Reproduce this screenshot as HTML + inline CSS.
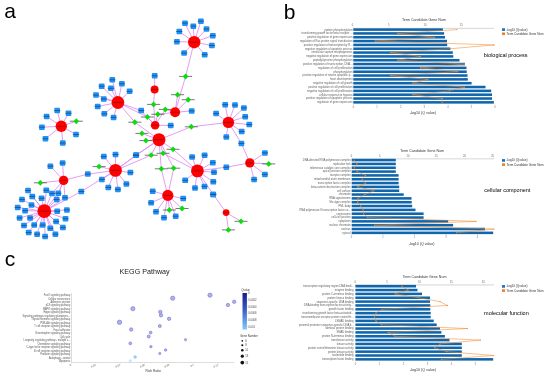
<!DOCTYPE html>
<html><head><meta charset="utf-8"><style>
html,body{margin:0;padding:0;background:#fff;}
body{width:550px;height:376px;overflow:hidden;}
svg{display:block;font-family:"Liberation Sans", sans-serif;filter:blur(0.3px);}
</style></head><body>
<svg width="550" height="376" viewBox="0 0 550 376">
<rect width="550" height="376" fill="#fff"/>
<g stroke="#dc84f2" stroke-width="0.8" fill="none">
<line x1="194.2" y1="42.2" x2="185" y2="23.1"/>
<line x1="194.2" y1="42.2" x2="193.3" y2="26.1"/>
<line x1="194.2" y1="42.2" x2="200.9" y2="21.2"/>
<line x1="194.2" y1="42.2" x2="206.5" y2="29"/>
<line x1="194.2" y1="42.2" x2="212.8" y2="35.6"/>
<line x1="194.2" y1="42.2" x2="211.9" y2="45.5"/>
<line x1="194.2" y1="42.2" x2="204.7" y2="54.7"/>
<line x1="194.2" y1="42.2" x2="184.1" y2="53"/>
<line x1="194.2" y1="42.2" x2="176.9" y2="41.6"/>
<line x1="194.2" y1="42.2" x2="179.3" y2="31.5"/>
<line x1="117.9" y1="102.5" x2="112.3" y2="79.8"/>
<line x1="117.9" y1="102.5" x2="121.9" y2="83.8"/>
<line x1="117.9" y1="102.5" x2="101.7" y2="86.2"/>
<line x1="117.9" y1="102.5" x2="110.9" y2="88.3"/>
<line x1="117.9" y1="102.5" x2="129.6" y2="91.3"/>
<line x1="117.9" y1="102.5" x2="96" y2="95.1"/>
<line x1="117.9" y1="102.5" x2="103.8" y2="98.9"/>
<line x1="117.9" y1="102.5" x2="97.7" y2="106.4"/>
<line x1="117.9" y1="102.5" x2="104.3" y2="113.8"/>
<line x1="117.9" y1="102.5" x2="113.6" y2="117.4"/>
<line x1="117.9" y1="102.5" x2="141.2" y2="110.6"/>
<line x1="155.1" y1="125.2" x2="141.2" y2="110.6"/>
<line x1="154.6" y1="89.4" x2="154.7" y2="75.8"/>
<line x1="175.1" y1="112.3" x2="191.7" y2="110.9"/>
<line x1="155.1" y1="125.2" x2="170.7" y2="125.5"/>
<line x1="159.0" y1="139.7" x2="136.2" y2="155.1"/>
<line x1="115.5" y1="170.4" x2="136.2" y2="155.1"/>
<line x1="61.3" y1="126.3" x2="57.2" y2="110.6"/>
<line x1="61.3" y1="126.3" x2="68.5" y2="113.2"/>
<line x1="61.3" y1="126.3" x2="46.6" y2="116.4"/>
<line x1="61.3" y1="126.3" x2="41.9" y2="127.2"/>
<line x1="61.3" y1="126.3" x2="45.5" y2="138.7"/>
<line x1="61.3" y1="126.3" x2="62.8" y2="143"/>
<line x1="61.3" y1="126.3" x2="76" y2="134.5"/>
<line x1="63.6" y1="180.4" x2="50.4" y2="166.2"/>
<line x1="63.6" y1="180.4" x2="62.6" y2="163"/>
<line x1="63.6" y1="180.4" x2="87.8" y2="174.1"/>
<line x1="115.5" y1="170.4" x2="87.8" y2="174.1"/>
<line x1="44.3" y1="211.2" x2="28" y2="190.5"/>
<line x1="44.3" y1="211.2" x2="46.3" y2="190.3"/>
<line x1="44.3" y1="211.2" x2="52" y2="193.4"/>
<line x1="63.6" y1="180.4" x2="52" y2="193.4"/>
<line x1="44.3" y1="211.2" x2="58.3" y2="193.2"/>
<line x1="63.6" y1="180.4" x2="58.3" y2="193.2"/>
<line x1="44.3" y1="211.2" x2="32.3" y2="196.4"/>
<line x1="44.3" y1="211.2" x2="41.6" y2="198.3"/>
<line x1="44.3" y1="211.2" x2="22" y2="199.6"/>
<line x1="44.3" y1="211.2" x2="56.7" y2="199.6"/>
<line x1="63.6" y1="180.4" x2="56.7" y2="199.6"/>
<line x1="44.3" y1="211.2" x2="65" y2="197.7"/>
<line x1="63.6" y1="180.4" x2="65" y2="197.7"/>
<line x1="44.3" y1="211.2" x2="31.5" y2="205.1"/>
<line x1="44.3" y1="211.2" x2="17.7" y2="207.5"/>
<line x1="44.3" y1="211.2" x2="25.1" y2="210.7"/>
<line x1="44.3" y1="211.2" x2="57.2" y2="211.2"/>
<line x1="44.3" y1="211.2" x2="66.9" y2="209.9"/>
<line x1="44.3" y1="211.2" x2="19.6" y2="217.9"/>
<line x1="44.3" y1="211.2" x2="30.1" y2="217.9"/>
<line x1="44.3" y1="211.2" x2="65.5" y2="218.7"/>
<line x1="44.3" y1="211.2" x2="56.1" y2="221.6"/>
<line x1="44.3" y1="211.2" x2="24" y2="225.4"/>
<line x1="44.3" y1="211.2" x2="34.2" y2="225.1"/>
<line x1="44.3" y1="211.2" x2="42.7" y2="225.1"/>
<line x1="44.3" y1="211.2" x2="50.3" y2="228.3"/>
<line x1="44.3" y1="211.2" x2="62.9" y2="227.6"/>
<line x1="44.3" y1="211.2" x2="28.7" y2="232.6"/>
<line x1="44.3" y1="211.2" x2="37.1" y2="234.2"/>
<line x1="44.3" y1="211.2" x2="55.4" y2="234.2"/>
<line x1="44.3" y1="211.2" x2="45.1" y2="236.6"/>
<line x1="44.3" y1="211.2" x2="81.3" y2="191.5"/>
<line x1="115.5" y1="170.4" x2="81.3" y2="191.5"/>
<line x1="115.5" y1="170.4" x2="103.8" y2="156.6"/>
<line x1="115.5" y1="170.4" x2="115.5" y2="154.5"/>
<line x1="115.5" y1="170.4" x2="101.9" y2="179.4"/>
<line x1="115.5" y1="170.4" x2="130.4" y2="172.6"/>
<line x1="115.5" y1="170.4" x2="126.4" y2="184"/>
<line x1="115.5" y1="170.4" x2="108.3" y2="187.4"/>
<line x1="115.5" y1="170.4" x2="117.9" y2="189.4"/>
<line x1="115.5" y1="170.4" x2="136" y2="155.3"/>
<line x1="159.0" y1="139.7" x2="136" y2="155.3"/>
<line x1="197.4" y1="170.9" x2="192.1" y2="157"/>
<line x1="197.4" y1="170.9" x2="204.6" y2="155.2"/>
<line x1="197.4" y1="170.9" x2="212.8" y2="162.7"/>
<line x1="197.4" y1="170.9" x2="214" y2="172.2"/>
<line x1="197.4" y1="170.9" x2="213.3" y2="181.8"/>
<line x1="197.4" y1="170.9" x2="204.5" y2="186.4"/>
<line x1="197.4" y1="170.9" x2="195" y2="188"/>
<line x1="197.4" y1="170.9" x2="185.2" y2="180.3"/>
<line x1="197.4" y1="170.9" x2="213.1" y2="194.4"/>
<line x1="197.4" y1="170.9" x2="226.3" y2="167.2"/>
<line x1="249.8" y1="162.9" x2="226.3" y2="167.2"/>
<line x1="167.8" y1="195.4" x2="152.7" y2="191.2"/>
<line x1="167.8" y1="195.4" x2="151.1" y2="202.8"/>
<line x1="167.8" y1="195.4" x2="156" y2="211.7"/>
<line x1="167.8" y1="195.4" x2="164" y2="217.7"/>
<line x1="167.8" y1="195.4" x2="175.7" y2="216.2"/>
<line x1="167.8" y1="195.4" x2="183.2" y2="198.5"/>
<line x1="228.4" y1="122.4" x2="225.2" y2="104.7"/>
<line x1="228.4" y1="122.4" x2="235" y2="105.1"/>
<line x1="228.4" y1="122.4" x2="243.9" y2="107.9"/>
<line x1="228.4" y1="122.4" x2="216.1" y2="113.6"/>
<line x1="228.4" y1="122.4" x2="245.2" y2="116.8"/>
<line x1="228.4" y1="122.4" x2="249.3" y2="124.6"/>
<line x1="228.4" y1="122.4" x2="241.7" y2="131.6"/>
<line x1="228.4" y1="122.4" x2="226.3" y2="137"/>
<line x1="228.4" y1="122.4" x2="241.4" y2="143.4"/>
<line x1="249.8" y1="162.9" x2="241.4" y2="143.4"/>
<line x1="249.8" y1="162.9" x2="264.9" y2="152.9"/>
<line x1="249.8" y1="162.9" x2="264.9" y2="174.4"/>
<line x1="249.8" y1="162.9" x2="254.1" y2="179.6"/>
<line x1="226.1" y1="212.6" x2="213.3" y2="194.4"/>
<line x1="194.2" y1="42.2" x2="185.6" y2="76.4"/>
<line x1="175.1" y1="112.3" x2="185.6" y2="76.4"/>
<line x1="175.1" y1="112.3" x2="177.6" y2="94.7"/>
<line x1="175.1" y1="112.3" x2="188.2" y2="99.7"/>
<line x1="154.6" y1="89.4" x2="153.6" y2="104.4"/>
<line x1="155.1" y1="125.2" x2="153.6" y2="104.4"/>
<line x1="175.1" y1="112.3" x2="165.3" y2="109.4"/>
<line x1="155.1" y1="125.2" x2="165.3" y2="109.4"/>
<line x1="155.1" y1="125.2" x2="157.8" y2="114.3"/>
<line x1="175.1" y1="112.3" x2="157.8" y2="114.3"/>
<line x1="117.9" y1="102.5" x2="147.4" y2="117"/>
<line x1="155.1" y1="125.2" x2="147.4" y2="117"/>
<line x1="117.9" y1="102.5" x2="134.8" y2="122.2"/>
<line x1="159.0" y1="139.7" x2="134.8" y2="122.2"/>
<line x1="228.4" y1="122.4" x2="191.3" y2="126.8"/>
<line x1="159.0" y1="139.7" x2="191.3" y2="126.8"/>
<line x1="159.0" y1="139.7" x2="141.9" y2="133.4"/>
<line x1="159.0" y1="139.7" x2="145.9" y2="140.6"/>
<line x1="159.0" y1="139.7" x2="173.1" y2="149.3"/>
<line x1="197.4" y1="170.9" x2="173.1" y2="149.3"/>
<line x1="159.0" y1="139.7" x2="163.1" y2="153.3"/>
<line x1="197.4" y1="170.9" x2="163.1" y2="153.3"/>
<line x1="159.0" y1="139.7" x2="151.2" y2="155.2"/>
<line x1="115.5" y1="170.4" x2="151.2" y2="155.2"/>
<line x1="159.0" y1="139.7" x2="161.3" y2="168.8"/>
<line x1="167.8" y1="195.4" x2="161.3" y2="168.8"/>
<line x1="159.0" y1="139.7" x2="173.7" y2="168.2"/>
<line x1="167.8" y1="195.4" x2="173.7" y2="168.2"/>
<line x1="167.8" y1="195.4" x2="169.4" y2="210"/>
<line x1="167.8" y1="195.4" x2="182.1" y2="208.5"/>
<line x1="226.1" y1="212.6" x2="241" y2="221.3"/>
<line x1="226.1" y1="212.6" x2="228.4" y2="229.9"/>
<line x1="249.8" y1="162.9" x2="268.7" y2="163.9"/>
<line x1="61.3" y1="126.3" x2="76.3" y2="121.2"/>
<line x1="63.6" y1="180.4" x2="40.4" y2="182.8"/>
<line x1="115.5" y1="170.4" x2="99.1" y2="166.6"/>
</g>
<g fill="#1f90fa">
<rect x="182.2" y="20.4" width="5.6" height="5.5" rx="0.7"/>
<rect x="190.5" y="23.4" width="5.6" height="5.5" rx="0.7"/>
<rect x="198.1" y="18.4" width="5.6" height="5.5" rx="0.7"/>
<rect x="203.7" y="26.2" width="5.6" height="5.5" rx="0.7"/>
<rect x="210.0" y="32.9" width="5.6" height="5.5" rx="0.7"/>
<rect x="209.1" y="42.8" width="5.6" height="5.5" rx="0.7"/>
<rect x="201.9" y="52.0" width="5.6" height="5.5" rx="0.7"/>
<rect x="181.3" y="50.2" width="5.6" height="5.5" rx="0.7"/>
<rect x="174.1" y="38.9" width="5.6" height="5.5" rx="0.7"/>
<rect x="176.5" y="28.8" width="5.6" height="5.5" rx="0.7"/>
<rect x="109.5" y="77.0" width="5.6" height="5.5" rx="0.7"/>
<rect x="119.1" y="81.0" width="5.6" height="5.5" rx="0.7"/>
<rect x="98.9" y="83.5" width="5.6" height="5.5" rx="0.7"/>
<rect x="108.1" y="85.5" width="5.6" height="5.5" rx="0.7"/>
<rect x="126.8" y="88.5" width="5.6" height="5.5" rx="0.7"/>
<rect x="93.2" y="92.3" width="5.6" height="5.5" rx="0.7"/>
<rect x="101.0" y="96.2" width="5.6" height="5.5" rx="0.7"/>
<rect x="94.9" y="103.7" width="5.6" height="5.5" rx="0.7"/>
<rect x="101.5" y="111.0" width="5.6" height="5.5" rx="0.7"/>
<rect x="110.8" y="114.7" width="5.6" height="5.5" rx="0.7"/>
<rect x="138.4" y="107.8" width="5.6" height="5.5" rx="0.7"/>
<rect x="151.9" y="73.0" width="5.6" height="5.5" rx="0.7"/>
<rect x="188.9" y="108.2" width="5.6" height="5.5" rx="0.7"/>
<rect x="167.9" y="122.8" width="5.6" height="5.5" rx="0.7"/>
<rect x="133.4" y="152.3" width="5.6" height="5.5" rx="0.7"/>
<rect x="54.4" y="107.8" width="5.6" height="5.5" rx="0.7"/>
<rect x="65.7" y="110.5" width="5.6" height="5.5" rx="0.7"/>
<rect x="43.8" y="113.7" width="5.6" height="5.5" rx="0.7"/>
<rect x="39.1" y="124.5" width="5.6" height="5.5" rx="0.7"/>
<rect x="42.7" y="135.9" width="5.6" height="5.5" rx="0.7"/>
<rect x="60.0" y="140.2" width="5.6" height="5.5" rx="0.7"/>
<rect x="73.2" y="131.8" width="5.6" height="5.5" rx="0.7"/>
<rect x="47.6" y="163.4" width="5.6" height="5.5" rx="0.7"/>
<rect x="59.8" y="160.2" width="5.6" height="5.5" rx="0.7"/>
<rect x="85.0" y="171.3" width="5.6" height="5.5" rx="0.7"/>
<rect x="25.2" y="187.8" width="5.6" height="5.5" rx="0.7"/>
<rect x="43.5" y="187.6" width="5.6" height="5.5" rx="0.7"/>
<rect x="49.2" y="190.7" width="5.6" height="5.5" rx="0.7"/>
<rect x="55.5" y="190.4" width="5.6" height="5.5" rx="0.7"/>
<rect x="29.5" y="193.7" width="5.6" height="5.5" rx="0.7"/>
<rect x="38.8" y="195.6" width="5.6" height="5.5" rx="0.7"/>
<rect x="19.2" y="196.8" width="5.6" height="5.5" rx="0.7"/>
<rect x="53.9" y="196.8" width="5.6" height="5.5" rx="0.7"/>
<rect x="62.2" y="194.9" width="5.6" height="5.5" rx="0.7"/>
<rect x="28.7" y="202.3" width="5.6" height="5.5" rx="0.7"/>
<rect x="14.9" y="204.8" width="5.6" height="5.5" rx="0.7"/>
<rect x="22.3" y="207.9" width="5.6" height="5.5" rx="0.7"/>
<rect x="54.4" y="208.4" width="5.6" height="5.5" rx="0.7"/>
<rect x="64.1" y="207.2" width="5.6" height="5.5" rx="0.7"/>
<rect x="16.8" y="215.2" width="5.6" height="5.5" rx="0.7"/>
<rect x="27.3" y="215.2" width="5.6" height="5.5" rx="0.7"/>
<rect x="62.7" y="215.9" width="5.6" height="5.5" rx="0.7"/>
<rect x="53.3" y="218.8" width="5.6" height="5.5" rx="0.7"/>
<rect x="21.2" y="222.7" width="5.6" height="5.5" rx="0.7"/>
<rect x="31.4" y="222.3" width="5.6" height="5.5" rx="0.7"/>
<rect x="39.9" y="222.3" width="5.6" height="5.5" rx="0.7"/>
<rect x="47.5" y="225.6" width="5.6" height="5.5" rx="0.7"/>
<rect x="60.1" y="224.8" width="5.6" height="5.5" rx="0.7"/>
<rect x="25.9" y="229.8" width="5.6" height="5.5" rx="0.7"/>
<rect x="34.3" y="231.4" width="5.6" height="5.5" rx="0.7"/>
<rect x="52.6" y="231.4" width="5.6" height="5.5" rx="0.7"/>
<rect x="42.3" y="233.8" width="5.6" height="5.5" rx="0.7"/>
<rect x="78.5" y="188.8" width="5.6" height="5.5" rx="0.7"/>
<rect x="101.0" y="153.8" width="5.6" height="5.5" rx="0.7"/>
<rect x="112.7" y="151.8" width="5.6" height="5.5" rx="0.7"/>
<rect x="99.1" y="176.7" width="5.6" height="5.5" rx="0.7"/>
<rect x="127.6" y="169.8" width="5.6" height="5.5" rx="0.7"/>
<rect x="123.6" y="181.2" width="5.6" height="5.5" rx="0.7"/>
<rect x="105.5" y="184.7" width="5.6" height="5.5" rx="0.7"/>
<rect x="115.1" y="186.7" width="5.6" height="5.5" rx="0.7"/>
<rect x="133.2" y="152.6" width="5.6" height="5.5" rx="0.7"/>
<rect x="189.3" y="154.2" width="5.6" height="5.5" rx="0.7"/>
<rect x="201.8" y="152.4" width="5.6" height="5.5" rx="0.7"/>
<rect x="210.0" y="159.9" width="5.6" height="5.5" rx="0.7"/>
<rect x="211.2" y="169.4" width="5.6" height="5.5" rx="0.7"/>
<rect x="210.5" y="179.1" width="5.6" height="5.5" rx="0.7"/>
<rect x="201.7" y="183.7" width="5.6" height="5.5" rx="0.7"/>
<rect x="192.2" y="185.2" width="5.6" height="5.5" rx="0.7"/>
<rect x="182.4" y="177.6" width="5.6" height="5.5" rx="0.7"/>
<rect x="210.3" y="191.7" width="5.6" height="5.5" rx="0.7"/>
<rect x="223.5" y="164.4" width="5.6" height="5.5" rx="0.7"/>
<rect x="149.9" y="188.4" width="5.6" height="5.5" rx="0.7"/>
<rect x="148.3" y="200.1" width="5.6" height="5.5" rx="0.7"/>
<rect x="153.2" y="208.9" width="5.6" height="5.5" rx="0.7"/>
<rect x="161.2" y="214.9" width="5.6" height="5.5" rx="0.7"/>
<rect x="172.9" y="213.4" width="5.6" height="5.5" rx="0.7"/>
<rect x="180.4" y="195.8" width="5.6" height="5.5" rx="0.7"/>
<rect x="222.4" y="102.0" width="5.6" height="5.5" rx="0.7"/>
<rect x="232.2" y="102.3" width="5.6" height="5.5" rx="0.7"/>
<rect x="241.1" y="105.2" width="5.6" height="5.5" rx="0.7"/>
<rect x="213.3" y="110.8" width="5.6" height="5.5" rx="0.7"/>
<rect x="242.4" y="114.0" width="5.6" height="5.5" rx="0.7"/>
<rect x="246.5" y="121.8" width="5.6" height="5.5" rx="0.7"/>
<rect x="238.9" y="128.8" width="5.6" height="5.5" rx="0.7"/>
<rect x="223.5" y="134.2" width="5.6" height="5.5" rx="0.7"/>
<rect x="238.6" y="140.7" width="5.6" height="5.5" rx="0.7"/>
<rect x="262.1" y="150.2" width="5.6" height="5.5" rx="0.7"/>
<rect x="262.1" y="171.7" width="5.6" height="5.5" rx="0.7"/>
<rect x="251.3" y="176.8" width="5.6" height="5.5" rx="0.7"/>
<rect x="210.5" y="191.7" width="5.6" height="5.5" rx="0.7"/>
</g>
<g stroke="#122" stroke-width="0.8" opacity="0.6">
<line x1="181.8" y1="23.1" x2="188.2" y2="23.1"/>
<line x1="190.1" y1="26.1" x2="196.5" y2="26.1"/>
<line x1="197.7" y1="21.2" x2="204.1" y2="21.2"/>
<line x1="203.3" y1="29.0" x2="209.7" y2="29.0"/>
<line x1="209.6" y1="35.6" x2="216.0" y2="35.6"/>
<line x1="208.7" y1="45.5" x2="215.1" y2="45.5"/>
<line x1="201.5" y1="54.7" x2="207.9" y2="54.7"/>
<line x1="180.9" y1="53.0" x2="187.3" y2="53.0"/>
<line x1="173.7" y1="41.6" x2="180.1" y2="41.6"/>
<line x1="176.1" y1="31.5" x2="182.5" y2="31.5"/>
<line x1="109.1" y1="79.8" x2="115.5" y2="79.8"/>
<line x1="118.7" y1="83.8" x2="125.1" y2="83.8"/>
<line x1="98.5" y1="86.2" x2="104.9" y2="86.2"/>
<line x1="107.7" y1="88.3" x2="114.1" y2="88.3"/>
<line x1="126.4" y1="91.3" x2="132.8" y2="91.3"/>
<line x1="92.8" y1="95.1" x2="99.2" y2="95.1"/>
<line x1="100.6" y1="98.9" x2="107.0" y2="98.9"/>
<line x1="94.5" y1="106.4" x2="100.9" y2="106.4"/>
<line x1="101.1" y1="113.8" x2="107.5" y2="113.8"/>
<line x1="110.4" y1="117.4" x2="116.8" y2="117.4"/>
<line x1="138.0" y1="110.6" x2="144.4" y2="110.6"/>
<line x1="151.5" y1="75.8" x2="157.9" y2="75.8"/>
<line x1="188.5" y1="110.9" x2="194.9" y2="110.9"/>
<line x1="167.5" y1="125.5" x2="173.9" y2="125.5"/>
<line x1="133.0" y1="155.1" x2="139.4" y2="155.1"/>
<line x1="54.0" y1="110.6" x2="60.4" y2="110.6"/>
<line x1="65.3" y1="113.2" x2="71.7" y2="113.2"/>
<line x1="43.4" y1="116.4" x2="49.8" y2="116.4"/>
<line x1="38.7" y1="127.2" x2="45.1" y2="127.2"/>
<line x1="42.3" y1="138.7" x2="48.7" y2="138.7"/>
<line x1="59.6" y1="143.0" x2="66.0" y2="143.0"/>
<line x1="72.8" y1="134.5" x2="79.2" y2="134.5"/>
<line x1="47.2" y1="166.2" x2="53.6" y2="166.2"/>
<line x1="59.4" y1="163.0" x2="65.8" y2="163.0"/>
<line x1="84.6" y1="174.1" x2="91.0" y2="174.1"/>
<line x1="24.8" y1="190.5" x2="31.2" y2="190.5"/>
<line x1="43.1" y1="190.3" x2="49.5" y2="190.3"/>
<line x1="48.8" y1="193.4" x2="55.2" y2="193.4"/>
<line x1="55.1" y1="193.2" x2="61.5" y2="193.2"/>
<line x1="29.1" y1="196.4" x2="35.5" y2="196.4"/>
<line x1="38.4" y1="198.3" x2="44.8" y2="198.3"/>
<line x1="18.8" y1="199.6" x2="25.2" y2="199.6"/>
<line x1="53.5" y1="199.6" x2="59.9" y2="199.6"/>
<line x1="61.8" y1="197.7" x2="68.2" y2="197.7"/>
<line x1="28.3" y1="205.1" x2="34.7" y2="205.1"/>
<line x1="14.5" y1="207.5" x2="20.9" y2="207.5"/>
<line x1="21.9" y1="210.7" x2="28.3" y2="210.7"/>
<line x1="54.0" y1="211.2" x2="60.4" y2="211.2"/>
<line x1="63.7" y1="209.9" x2="70.1" y2="209.9"/>
<line x1="16.4" y1="217.9" x2="22.8" y2="217.9"/>
<line x1="26.9" y1="217.9" x2="33.3" y2="217.9"/>
<line x1="62.3" y1="218.7" x2="68.7" y2="218.7"/>
<line x1="52.9" y1="221.6" x2="59.3" y2="221.6"/>
<line x1="20.8" y1="225.4" x2="27.2" y2="225.4"/>
<line x1="31.0" y1="225.1" x2="37.4" y2="225.1"/>
<line x1="39.5" y1="225.1" x2="45.9" y2="225.1"/>
<line x1="47.1" y1="228.3" x2="53.5" y2="228.3"/>
<line x1="59.7" y1="227.6" x2="66.1" y2="227.6"/>
<line x1="25.5" y1="232.6" x2="31.9" y2="232.6"/>
<line x1="33.9" y1="234.2" x2="40.3" y2="234.2"/>
<line x1="52.2" y1="234.2" x2="58.6" y2="234.2"/>
<line x1="41.9" y1="236.6" x2="48.3" y2="236.6"/>
<line x1="78.1" y1="191.5" x2="84.5" y2="191.5"/>
<line x1="100.6" y1="156.6" x2="107.0" y2="156.6"/>
<line x1="112.3" y1="154.5" x2="118.7" y2="154.5"/>
<line x1="98.7" y1="179.4" x2="105.1" y2="179.4"/>
<line x1="127.2" y1="172.6" x2="133.6" y2="172.6"/>
<line x1="123.2" y1="184.0" x2="129.6" y2="184.0"/>
<line x1="105.1" y1="187.4" x2="111.5" y2="187.4"/>
<line x1="114.7" y1="189.4" x2="121.1" y2="189.4"/>
<line x1="132.8" y1="155.3" x2="139.2" y2="155.3"/>
<line x1="188.9" y1="157.0" x2="195.3" y2="157.0"/>
<line x1="201.4" y1="155.2" x2="207.8" y2="155.2"/>
<line x1="209.6" y1="162.7" x2="216.0" y2="162.7"/>
<line x1="210.8" y1="172.2" x2="217.2" y2="172.2"/>
<line x1="210.1" y1="181.8" x2="216.5" y2="181.8"/>
<line x1="201.3" y1="186.4" x2="207.7" y2="186.4"/>
<line x1="191.8" y1="188.0" x2="198.2" y2="188.0"/>
<line x1="182.0" y1="180.3" x2="188.4" y2="180.3"/>
<line x1="209.9" y1="194.4" x2="216.3" y2="194.4"/>
<line x1="223.1" y1="167.2" x2="229.5" y2="167.2"/>
<line x1="149.5" y1="191.2" x2="155.9" y2="191.2"/>
<line x1="147.9" y1="202.8" x2="154.3" y2="202.8"/>
<line x1="152.8" y1="211.7" x2="159.2" y2="211.7"/>
<line x1="160.8" y1="217.7" x2="167.2" y2="217.7"/>
<line x1="172.5" y1="216.2" x2="178.9" y2="216.2"/>
<line x1="180.0" y1="198.5" x2="186.4" y2="198.5"/>
<line x1="222.0" y1="104.7" x2="228.4" y2="104.7"/>
<line x1="231.8" y1="105.1" x2="238.2" y2="105.1"/>
<line x1="240.7" y1="107.9" x2="247.1" y2="107.9"/>
<line x1="212.9" y1="113.6" x2="219.3" y2="113.6"/>
<line x1="242.0" y1="116.8" x2="248.4" y2="116.8"/>
<line x1="246.1" y1="124.6" x2="252.5" y2="124.6"/>
<line x1="238.5" y1="131.6" x2="244.9" y2="131.6"/>
<line x1="223.1" y1="137.0" x2="229.5" y2="137.0"/>
<line x1="238.2" y1="143.4" x2="244.6" y2="143.4"/>
<line x1="261.7" y1="152.9" x2="268.1" y2="152.9"/>
<line x1="261.7" y1="174.4" x2="268.1" y2="174.4"/>
<line x1="250.9" y1="179.6" x2="257.3" y2="179.6"/>
<line x1="210.1" y1="194.4" x2="216.5" y2="194.4"/>
</g>
<g stroke="#2a2a2a" stroke-width="0.85" opacity="0.75">
<line x1="179.1" y1="76.4" x2="192.1" y2="76.4"/>
<line x1="171.1" y1="94.7" x2="184.1" y2="94.7"/>
<line x1="181.7" y1="99.7" x2="194.7" y2="99.7"/>
<line x1="147.1" y1="104.4" x2="160.1" y2="104.4"/>
<line x1="158.8" y1="109.4" x2="171.8" y2="109.4"/>
<line x1="151.3" y1="114.3" x2="164.3" y2="114.3"/>
<line x1="140.9" y1="117.0" x2="153.9" y2="117.0"/>
<line x1="128.3" y1="122.2" x2="141.3" y2="122.2"/>
<line x1="184.8" y1="126.8" x2="197.8" y2="126.8"/>
<line x1="135.4" y1="133.4" x2="148.4" y2="133.4"/>
<line x1="139.4" y1="140.6" x2="152.4" y2="140.6"/>
<line x1="166.6" y1="149.3" x2="179.6" y2="149.3"/>
<line x1="156.6" y1="153.3" x2="169.6" y2="153.3"/>
<line x1="144.7" y1="155.2" x2="157.7" y2="155.2"/>
<line x1="154.8" y1="168.8" x2="167.8" y2="168.8"/>
<line x1="167.2" y1="168.2" x2="180.2" y2="168.2"/>
<line x1="162.9" y1="210.0" x2="175.9" y2="210.0"/>
<line x1="175.6" y1="208.5" x2="188.6" y2="208.5"/>
<line x1="234.5" y1="221.3" x2="247.5" y2="221.3"/>
<line x1="221.9" y1="229.9" x2="234.9" y2="229.9"/>
<line x1="262.2" y1="163.9" x2="275.2" y2="163.9"/>
<line x1="69.8" y1="121.2" x2="82.8" y2="121.2"/>
<line x1="33.9" y1="182.8" x2="46.9" y2="182.8"/>
<line x1="92.6" y1="166.6" x2="105.6" y2="166.6"/>
</g>
<g fill="#0cdc0c">
<path d="M185.6 73.5L188.4 76.4L185.6 79.4L182.8 76.4Z"/>
<path d="M177.6 91.8L180.4 94.7L177.6 97.7L174.8 94.7Z"/>
<path d="M188.2 96.8L191.0 99.7L188.2 102.7L185.3 99.7Z"/>
<path d="M153.6 101.5L156.4 104.4L153.6 107.4L150.8 104.4Z"/>
<path d="M165.3 106.5L168.2 109.4L165.3 112.4L162.5 109.4Z"/>
<path d="M157.8 111.3L160.7 114.3L157.8 117.2L155.0 114.3Z"/>
<path d="M147.4 114.0L150.2 117.0L147.4 120.0L144.6 117.0Z"/>
<path d="M134.8 119.2L137.7 122.2L134.8 125.2L132.0 122.2Z"/>
<path d="M191.3 123.8L194.2 126.8L191.3 129.8L188.5 126.8Z"/>
<path d="M141.9 130.5L144.8 133.4L141.9 136.3L139.1 133.4Z"/>
<path d="M145.9 137.7L148.8 140.6L145.9 143.5L143.1 140.6Z"/>
<path d="M173.1 146.4L175.9 149.3L173.1 152.2L170.2 149.3Z"/>
<path d="M163.1 150.4L165.9 153.3L163.1 156.2L160.2 153.3Z"/>
<path d="M151.2 152.2L154.0 155.2L151.2 158.1L148.3 155.2Z"/>
<path d="M161.3 165.9L164.2 168.8L161.3 171.8L158.5 168.8Z"/>
<path d="M173.7 165.2L176.5 168.2L173.7 171.1L170.8 168.2Z"/>
<path d="M169.4 207.1L172.2 210.0L169.4 212.9L166.6 210.0Z"/>
<path d="M182.1 205.6L184.9 208.5L182.1 211.4L179.2 208.5Z"/>
<path d="M241.0 218.4L243.8 221.3L241.0 224.2L238.2 221.3Z"/>
<path d="M228.4 227.0L231.2 229.9L228.4 232.8L225.6 229.9Z"/>
<path d="M268.7 161.0L271.6 163.9L268.7 166.8L265.8 163.9Z"/>
<path d="M76.3 118.2L79.1 121.2L76.3 124.2L73.5 121.2Z"/>
<path d="M40.4 179.9L43.2 182.8L40.4 185.8L37.5 182.8Z"/>
<path d="M99.1 163.7L101.9 166.6L99.1 169.5L96.2 166.6Z"/>
</g>
<g fill="#ff0000">
<circle cx="194.2" cy="42.2" r="6.2"/>
<circle cx="117.9" cy="102.5" r="6.4"/>
<circle cx="154.6" cy="89.4" r="4.0"/>
<circle cx="175.1" cy="112.3" r="5.0"/>
<circle cx="155.1" cy="125.2" r="4.3"/>
<circle cx="159.0" cy="139.7" r="6.5"/>
<circle cx="228.4" cy="122.4" r="5.7"/>
<circle cx="61.3" cy="126.3" r="5.7"/>
<circle cx="63.6" cy="180.4" r="4.7"/>
<circle cx="115.5" cy="170.4" r="6.4"/>
<circle cx="197.4" cy="170.9" r="6.4"/>
<circle cx="167.8" cy="195.4" r="5.6"/>
<circle cx="249.8" cy="162.9" r="4.65"/>
<circle cx="226.1" cy="212.6" r="3.4"/>
<circle cx="44.3" cy="211.2" r="6.9"/>
</g>
<g stroke="#400" stroke-width="0.7" opacity="0.6">
<line x1="189.5" y1="42.2" x2="198.8" y2="42.2"/>
<line x1="113.1" y1="102.5" x2="122.7" y2="102.5"/>
<line x1="151.6" y1="89.4" x2="157.6" y2="89.4"/>
<line x1="171.3" y1="112.3" x2="178.8" y2="112.3"/>
<line x1="151.9" y1="125.2" x2="158.3" y2="125.2"/>
<line x1="154.1" y1="139.7" x2="163.9" y2="139.7"/>
<line x1="224.1" y1="122.4" x2="232.7" y2="122.4"/>
<line x1="57.0" y1="126.3" x2="65.6" y2="126.3"/>
<line x1="60.1" y1="180.4" x2="67.1" y2="180.4"/>
<line x1="110.7" y1="170.4" x2="120.3" y2="170.4"/>
<line x1="192.6" y1="170.9" x2="202.2" y2="170.9"/>
<line x1="163.6" y1="195.4" x2="172.0" y2="195.4"/>
<line x1="246.3" y1="162.9" x2="253.3" y2="162.9"/>
<line x1="223.5" y1="212.6" x2="228.7" y2="212.6"/>
<line x1="39.1" y1="211.2" x2="49.5" y2="211.2"/>
</g>
<line x1="353.3" y1="28.35" x2="494" y2="28.35" stroke="#b8b8b8" stroke-width="0.6"/>
<line x1="353.3" y1="27.35" x2="353.3" y2="28.35" stroke="#bbb" stroke-width="0.4"/>
<text x="352.5" y="26.200000000000003" font-size="2.6" fill="#666" text-anchor="middle">0</text>
<line x1="389.5" y1="27.35" x2="389.5" y2="28.35" stroke="#bbb" stroke-width="0.4"/>
<text x="388.7" y="26.200000000000003" font-size="2.6" fill="#666" text-anchor="middle">5</text>
<line x1="425.8" y1="27.35" x2="425.8" y2="28.35" stroke="#bbb" stroke-width="0.4"/>
<text x="425.0" y="26.200000000000003" font-size="2.6" fill="#666" text-anchor="middle">10</text>
<line x1="462" y1="27.35" x2="462" y2="28.35" stroke="#bbb" stroke-width="0.4"/>
<text x="461.2" y="26.200000000000003" font-size="2.6" fill="#666" text-anchor="middle">15</text>
<text x="423.9" y="21.1" font-size="3.6" fill="#333" text-anchor="middle">Term Candidate Gene Num</text>
<rect x="353.3" y="28.33" width="89.60" height="2.55" fill="#1066ac"/>
<rect x="353.3" y="32.15" width="90.80" height="2.55" fill="#1066ac"/>
<rect x="353.3" y="35.98" width="91.70" height="2.55" fill="#1066ac"/>
<rect x="353.3" y="39.81" width="93.70" height="2.55" fill="#1066ac"/>
<rect x="353.3" y="43.64" width="93.90" height="2.55" fill="#1066ac"/>
<rect x="353.3" y="47.47" width="97.00" height="2.55" fill="#1066ac"/>
<rect x="353.3" y="51.30" width="99.50" height="2.55" fill="#1066ac"/>
<rect x="353.3" y="55.13" width="100.00" height="2.55" fill="#1066ac"/>
<rect x="353.3" y="58.96" width="106.20" height="2.55" fill="#1066ac"/>
<rect x="353.3" y="62.79" width="111.70" height="2.55" fill="#1066ac"/>
<rect x="353.3" y="66.61" width="113.20" height="2.55" fill="#1066ac"/>
<rect x="353.3" y="70.44" width="113.40" height="2.55" fill="#1066ac"/>
<rect x="353.3" y="74.27" width="114.20" height="2.55" fill="#1066ac"/>
<rect x="353.3" y="78.10" width="114.50" height="2.55" fill="#1066ac"/>
<rect x="353.3" y="81.93" width="118.30" height="2.55" fill="#1066ac"/>
<rect x="353.3" y="85.76" width="132.20" height="2.55" fill="#1066ac"/>
<rect x="353.3" y="89.59" width="137.90" height="2.55" fill="#1066ac"/>
<rect x="353.3" y="93.42" width="138.70" height="2.55" fill="#1066ac"/>
<rect x="353.3" y="97.25" width="138.70" height="2.55" fill="#1066ac"/>
<rect x="353.3" y="101.08" width="140.60" height="2.55" fill="#1066ac"/>
<text x="352.4" y="30.50" font-size="2.7" fill="#606060" text-anchor="end">protein phosphorylation</text>
<text x="352.4" y="34.33" font-size="2.7" fill="#606060" text-anchor="end">transforming growth factor beta receptor ...</text>
<text x="352.4" y="38.16" font-size="2.7" fill="#606060" text-anchor="end">positive regulation of gene expression</text>
<text x="352.4" y="41.99" font-size="2.7" fill="#606060" text-anchor="end">regulation of Ras protein signal transduction</text>
<text x="352.4" y="45.82" font-size="2.7" fill="#606060" text-anchor="end">positive regulation of transcription by R...</text>
<text x="352.4" y="49.65" font-size="2.7" fill="#606060" text-anchor="end">negative regulation of apoptotic process</text>
<text x="352.4" y="53.47" font-size="2.7" fill="#606060" text-anchor="end">ventricular septum morphogenesis</text>
<text x="352.4" y="57.30" font-size="2.7" fill="#606060" text-anchor="end">negative regulation of gene expression</text>
<text x="352.4" y="61.13" font-size="2.7" fill="#606060" text-anchor="end">peptidyl-tyrosine phosphorylation</text>
<text x="352.4" y="64.96" font-size="2.7" fill="#606060" text-anchor="end">positive regulation of transcription, DNA...</text>
<text x="352.4" y="68.79" font-size="2.7" fill="#606060" text-anchor="end">regulation of cell proliferation</text>
<text x="352.4" y="72.62" font-size="2.7" fill="#606060" text-anchor="end">phosphorylation</text>
<text x="352.4" y="76.45" font-size="2.7" fill="#606060" text-anchor="end">positive regulation of neuron apoptotic p...</text>
<text x="352.4" y="80.28" font-size="2.7" fill="#606060" text-anchor="end">heart development</text>
<text x="352.4" y="84.11" font-size="2.7" fill="#606060" text-anchor="end">negative regulation of cell growth</text>
<text x="352.4" y="87.94" font-size="2.7" fill="#606060" text-anchor="end">positive regulation of cell proliferation</text>
<text x="352.4" y="91.76" font-size="2.7" fill="#606060" text-anchor="end">negative regulation of cell proliferation</text>
<text x="352.4" y="95.59" font-size="2.7" fill="#606060" text-anchor="end">cellular response to hypoxia</text>
<text x="352.4" y="99.42" font-size="2.7" fill="#606060" text-anchor="end">positive regulation of apoptotic process</text>
<text x="352.4" y="103.25" font-size="2.7" fill="#606060" text-anchor="end">regulation of gene expression</text>
<polyline points="456.9,29.60 397.7,33.43 434.5,37.26 375.1,41.09 494.0,44.92 450.3,48.75 390.4,52.57 420.4,56.40 397.7,60.23 464.5,64.06 420.4,67.89 457.7,71.72 390.4,75.55 427.7,79.38 412.7,83.21 464.5,87.03 449.5,90.86 412.7,94.69 442.2,98.52 442.2,102.35" fill="none" stroke="#f08a2c" stroke-width="0.6" opacity="0.9"/>
<circle cx="456.9" cy="29.60" r="0.6" fill="#f08a2c"/>
<circle cx="397.7" cy="33.43" r="0.6" fill="#f08a2c"/>
<circle cx="434.5" cy="37.26" r="0.6" fill="#f08a2c"/>
<circle cx="375.1" cy="41.09" r="0.6" fill="#f08a2c"/>
<circle cx="494.0" cy="44.92" r="0.6" fill="#f08a2c"/>
<circle cx="450.3" cy="48.75" r="0.6" fill="#f08a2c"/>
<circle cx="390.4" cy="52.57" r="0.6" fill="#f08a2c"/>
<circle cx="420.4" cy="56.40" r="0.6" fill="#f08a2c"/>
<circle cx="397.7" cy="60.23" r="0.6" fill="#f08a2c"/>
<circle cx="464.5" cy="64.06" r="0.6" fill="#f08a2c"/>
<circle cx="420.4" cy="67.89" r="0.6" fill="#f08a2c"/>
<circle cx="457.7" cy="71.72" r="0.6" fill="#f08a2c"/>
<circle cx="390.4" cy="75.55" r="0.6" fill="#f08a2c"/>
<circle cx="427.7" cy="79.38" r="0.6" fill="#f08a2c"/>
<circle cx="412.7" cy="83.21" r="0.6" fill="#f08a2c"/>
<circle cx="464.5" cy="87.03" r="0.6" fill="#f08a2c"/>
<circle cx="449.5" cy="90.86" r="0.6" fill="#f08a2c"/>
<circle cx="412.7" cy="94.69" r="0.6" fill="#f08a2c"/>
<circle cx="442.2" cy="98.52" r="0.6" fill="#f08a2c"/>
<circle cx="442.2" cy="102.35" r="0.6" fill="#f08a2c"/>
<line x1="353.5" y1="103.651" x2="353.5" y2="104.651" stroke="#bbb" stroke-width="0.4"/>
<text x="353.5" y="107.7" font-size="2.6" fill="#777" text-anchor="middle">0</text>
<line x1="377.1" y1="103.651" x2="377.1" y2="104.651" stroke="#bbb" stroke-width="0.4"/>
<text x="377.1" y="107.7" font-size="2.6" fill="#777" text-anchor="middle">1</text>
<line x1="400.7" y1="103.651" x2="400.7" y2="104.651" stroke="#bbb" stroke-width="0.4"/>
<text x="400.7" y="107.7" font-size="2.6" fill="#777" text-anchor="middle">2</text>
<line x1="424.3" y1="103.651" x2="424.3" y2="104.651" stroke="#bbb" stroke-width="0.4"/>
<text x="424.3" y="107.7" font-size="2.6" fill="#777" text-anchor="middle">3</text>
<line x1="447.9" y1="103.651" x2="447.9" y2="104.651" stroke="#bbb" stroke-width="0.4"/>
<text x="447.9" y="107.7" font-size="2.6" fill="#777" text-anchor="middle">4</text>
<line x1="471.5" y1="103.651" x2="471.5" y2="104.651" stroke="#bbb" stroke-width="0.4"/>
<text x="471.5" y="107.7" font-size="2.6" fill="#777" text-anchor="middle">5</text>
<line x1="495.1" y1="103.651" x2="495.1" y2="104.651" stroke="#bbb" stroke-width="0.4"/>
<text x="495.1" y="107.7" font-size="2.6" fill="#777" text-anchor="middle">6</text>
<text x="423" y="114.3" font-size="3.6" fill="#333" text-anchor="middle">-log10  (Q value)</text>
<rect x="502" y="28.3" width="3" height="2.6" fill="#1a70c0"/>
<rect x="502" y="32.5" width="3" height="2.6" fill="#f07f1e"/>
<text x="506.5" y="30.6" font-size="3.05" fill="#333">-log10  (Qvalue)</text>
<text x="506.5" y="34.8" font-size="3.05" fill="#333">Term Candidate Gene Num</text>
<text x="483.8" y="57.1" font-size="5.5" fill="#000">biological process</text>
<line x1="351.7" y1="158.85" x2="494" y2="158.85" stroke="#b8b8b8" stroke-width="0.6"/>
<line x1="352.4" y1="157.85" x2="352.4" y2="158.85" stroke="#bbb" stroke-width="0.4"/>
<text x="351.59999999999997" y="156.7" font-size="2.6" fill="#666" text-anchor="middle">0</text>
<line x1="380.6" y1="157.85" x2="380.6" y2="158.85" stroke="#bbb" stroke-width="0.4"/>
<text x="379.8" y="156.7" font-size="2.6" fill="#666" text-anchor="middle">5</text>
<line x1="408.8" y1="157.85" x2="408.8" y2="158.85" stroke="#bbb" stroke-width="0.4"/>
<text x="408.0" y="156.7" font-size="2.6" fill="#666" text-anchor="middle">10</text>
<line x1="437.0" y1="157.85" x2="437.0" y2="158.85" stroke="#bbb" stroke-width="0.4"/>
<text x="436.2" y="156.7" font-size="2.6" fill="#666" text-anchor="middle">15</text>
<line x1="465.2" y1="157.85" x2="465.2" y2="158.85" stroke="#bbb" stroke-width="0.4"/>
<text x="464.4" y="156.7" font-size="2.6" fill="#666" text-anchor="middle">20</text>
<line x1="493.4" y1="157.85" x2="493.4" y2="158.85" stroke="#bbb" stroke-width="0.4"/>
<text x="492.59999999999997" y="156.7" font-size="2.6" fill="#666" text-anchor="middle">25</text>
<text x="422.2" y="151.8" font-size="3.6" fill="#333" text-anchor="middle">Term Candidate Gene Num</text>
<rect x="351.7" y="158.82" width="44.10" height="2.55" fill="#1066ac"/>
<rect x="351.7" y="162.65" width="44.10" height="2.55" fill="#1066ac"/>
<rect x="351.7" y="166.48" width="44.10" height="2.55" fill="#1066ac"/>
<rect x="351.7" y="170.31" width="44.10" height="2.55" fill="#1066ac"/>
<rect x="351.7" y="174.14" width="46.90" height="2.55" fill="#1066ac"/>
<rect x="351.7" y="177.97" width="46.90" height="2.55" fill="#1066ac"/>
<rect x="351.7" y="181.80" width="46.90" height="2.55" fill="#1066ac"/>
<rect x="351.7" y="185.63" width="47.50" height="2.55" fill="#1066ac"/>
<rect x="351.7" y="189.46" width="47.50" height="2.55" fill="#1066ac"/>
<rect x="351.7" y="193.29" width="52.00" height="2.55" fill="#1066ac"/>
<rect x="351.7" y="197.11" width="59.80" height="2.55" fill="#1066ac"/>
<rect x="351.7" y="200.94" width="60.00" height="2.55" fill="#1066ac"/>
<rect x="351.7" y="204.77" width="60.50" height="2.55" fill="#1066ac"/>
<rect x="351.7" y="208.60" width="63.80" height="2.55" fill="#1066ac"/>
<rect x="351.7" y="212.43" width="71.90" height="2.55" fill="#1066ac"/>
<rect x="351.7" y="216.26" width="71.90" height="2.55" fill="#1066ac"/>
<rect x="351.7" y="220.09" width="96.50" height="2.55" fill="#1066ac"/>
<rect x="351.7" y="223.92" width="101.40" height="2.55" fill="#1066ac"/>
<rect x="351.7" y="227.75" width="133.30" height="2.55" fill="#1066ac"/>
<rect x="351.7" y="231.58" width="141.50" height="2.55" fill="#1066ac"/>
<text x="350.5" y="161.00" font-size="2.7" fill="#606060" text-anchor="end">DNA-directed RNA polymerase complex</text>
<text x="350.5" y="164.83" font-size="2.7" fill="#606060" text-anchor="end">replication fork</text>
<text x="350.5" y="168.66" font-size="2.7" fill="#606060" text-anchor="end">telomerase catalytic core complex</text>
<text x="350.5" y="172.49" font-size="2.7" fill="#606060" text-anchor="end">apical junction complex</text>
<text x="350.5" y="176.32" font-size="2.7" fill="#606060" text-anchor="end">receptor complex</text>
<text x="350.5" y="180.15" font-size="2.7" fill="#606060" text-anchor="end">mitochondrial outer membrane</text>
<text x="350.5" y="183.97" font-size="2.7" fill="#606060" text-anchor="end">transcription factor complex</text>
<text x="350.5" y="187.80" font-size="2.7" fill="#606060" text-anchor="end">beta-catenin destruction complex</text>
<text x="350.5" y="191.63" font-size="2.7" fill="#606060" text-anchor="end">cell surface</text>
<text x="350.5" y="195.46" font-size="2.7" fill="#606060" text-anchor="end">chromatin</text>
<text x="350.5" y="199.29" font-size="2.7" fill="#606060" text-anchor="end">RNA signalosome</text>
<text x="350.5" y="203.12" font-size="2.7" fill="#606060" text-anchor="end">Shc-type complex</text>
<text x="350.5" y="206.95" font-size="2.7" fill="#606060" text-anchor="end">PML body</text>
<text x="350.5" y="210.78" font-size="2.7" fill="#606060" text-anchor="end">RNA polymerase II transcription factor co...</text>
<text x="350.5" y="214.61" font-size="2.7" fill="#606060" text-anchor="end">centrosome</text>
<text x="350.5" y="218.44" font-size="2.7" fill="#606060" text-anchor="end">cell-cell junction</text>
<text x="350.5" y="222.26" font-size="2.7" fill="#606060" text-anchor="end">cytoplasm</text>
<text x="350.5" y="226.09" font-size="2.7" fill="#606060" text-anchor="end">nuclear chromatin</text>
<text x="350.5" y="229.92" font-size="2.7" fill="#606060" text-anchor="end">nucleus</text>
<text x="350.5" y="233.75" font-size="2.7" fill="#606060" text-anchor="end">cytosol</text>
<polyline points="354.0,160.10 357.0,163.93 354.4,167.76 357.0,171.59 365.6,175.42 362.0,179.25 365.6,183.07 357.6,186.90 374.0,190.73 365.0,194.56 358.0,198.39 357.6,202.22 360.9,206.05 363.1,209.88 363.6,213.71 367.7,217.53 476.0,221.36 374.5,225.19 494.0,229.02 456.4,232.85" fill="none" stroke="#f08a2c" stroke-width="0.6" opacity="0.9"/>
<circle cx="354.0" cy="160.10" r="0.6" fill="#f08a2c"/>
<circle cx="357.0" cy="163.93" r="0.6" fill="#f08a2c"/>
<circle cx="354.4" cy="167.76" r="0.6" fill="#f08a2c"/>
<circle cx="357.0" cy="171.59" r="0.6" fill="#f08a2c"/>
<circle cx="365.6" cy="175.42" r="0.6" fill="#f08a2c"/>
<circle cx="362.0" cy="179.25" r="0.6" fill="#f08a2c"/>
<circle cx="365.6" cy="183.07" r="0.6" fill="#f08a2c"/>
<circle cx="357.6" cy="186.90" r="0.6" fill="#f08a2c"/>
<circle cx="374.0" cy="190.73" r="0.6" fill="#f08a2c"/>
<circle cx="365.0" cy="194.56" r="0.6" fill="#f08a2c"/>
<circle cx="358.0" cy="198.39" r="0.6" fill="#f08a2c"/>
<circle cx="357.6" cy="202.22" r="0.6" fill="#f08a2c"/>
<circle cx="360.9" cy="206.05" r="0.6" fill="#f08a2c"/>
<circle cx="363.1" cy="209.88" r="0.6" fill="#f08a2c"/>
<circle cx="363.6" cy="213.71" r="0.6" fill="#f08a2c"/>
<circle cx="367.7" cy="217.53" r="0.6" fill="#f08a2c"/>
<circle cx="476.0" cy="221.36" r="0.6" fill="#f08a2c"/>
<circle cx="374.5" cy="225.19" r="0.6" fill="#f08a2c"/>
<circle cx="494.0" cy="229.02" r="0.6" fill="#f08a2c"/>
<circle cx="456.4" cy="232.85" r="0.6" fill="#f08a2c"/>
<line x1="351.4" y1="234.151" x2="351.4" y2="235.151" stroke="#bbb" stroke-width="0.4"/>
<text x="351.4" y="238.2" font-size="2.6" fill="#777" text-anchor="middle">0</text>
<line x1="382.9" y1="234.151" x2="382.9" y2="235.151" stroke="#bbb" stroke-width="0.4"/>
<text x="382.9" y="238.2" font-size="2.6" fill="#777" text-anchor="middle">1</text>
<line x1="414.4" y1="234.151" x2="414.4" y2="235.151" stroke="#bbb" stroke-width="0.4"/>
<text x="414.4" y="238.2" font-size="2.6" fill="#777" text-anchor="middle">2</text>
<line x1="445.9" y1="234.151" x2="445.9" y2="235.151" stroke="#bbb" stroke-width="0.4"/>
<text x="445.9" y="238.2" font-size="2.6" fill="#777" text-anchor="middle">3</text>
<line x1="477.4" y1="234.151" x2="477.4" y2="235.151" stroke="#bbb" stroke-width="0.4"/>
<text x="477.4" y="238.2" font-size="2.6" fill="#777" text-anchor="middle">4</text>
<text x="421.6" y="244.6" font-size="3.6" fill="#333" text-anchor="middle">-log10  (Q value)</text>
<rect x="502" y="159.1" width="3" height="2.6" fill="#1a70c0"/>
<rect x="502" y="163.29999999999998" width="3" height="2.6" fill="#f07f1e"/>
<text x="506.5" y="161.4" font-size="3.05" fill="#333">-log10  (Qvalue)</text>
<text x="506.5" y="165.6" font-size="3.05" fill="#333">Term Candidate Gene Num</text>
<text x="484.2" y="191.5" font-size="5.5" fill="#000">cellular component</text>
<line x1="355.4" y1="284.95" x2="494" y2="284.95" stroke="#b8b8b8" stroke-width="0.6"/>
<line x1="356" y1="283.95" x2="356" y2="284.95" stroke="#bbb" stroke-width="0.4"/>
<text x="355.2" y="282.8" font-size="2.6" fill="#666" text-anchor="middle">0</text>
<line x1="387.8" y1="283.95" x2="387.8" y2="284.95" stroke="#bbb" stroke-width="0.4"/>
<text x="387.0" y="282.8" font-size="2.6" fill="#666" text-anchor="middle">5</text>
<line x1="420.2" y1="283.95" x2="420.2" y2="284.95" stroke="#bbb" stroke-width="0.4"/>
<text x="419.4" y="282.8" font-size="2.6" fill="#666" text-anchor="middle">10</text>
<line x1="452" y1="283.95" x2="452" y2="284.95" stroke="#bbb" stroke-width="0.4"/>
<text x="451.2" y="282.8" font-size="2.6" fill="#666" text-anchor="middle">15</text>
<line x1="484" y1="283.95" x2="484" y2="284.95" stroke="#bbb" stroke-width="0.4"/>
<text x="483.2" y="282.8" font-size="2.6" fill="#666" text-anchor="middle">20</text>
<text x="424.5" y="278.3" font-size="3.6" fill="#333" text-anchor="middle">Term Candidate Gene Num</text>
<rect x="355.4" y="284.93" width="60.60" height="2.55" fill="#1066ac"/>
<rect x="355.4" y="288.78" width="62.10" height="2.55" fill="#1066ac"/>
<rect x="355.4" y="292.62" width="66.60" height="2.55" fill="#1066ac"/>
<rect x="355.4" y="296.48" width="74.60" height="2.55" fill="#1066ac"/>
<rect x="355.4" y="300.32" width="74.60" height="2.55" fill="#1066ac"/>
<rect x="355.4" y="304.18" width="74.90" height="2.55" fill="#1066ac"/>
<rect x="355.4" y="308.03" width="74.90" height="2.55" fill="#1066ac"/>
<rect x="355.4" y="311.88" width="75.30" height="2.55" fill="#1066ac"/>
<rect x="355.4" y="315.73" width="75.30" height="2.55" fill="#1066ac"/>
<rect x="355.4" y="319.57" width="78.30" height="2.55" fill="#1066ac"/>
<rect x="355.4" y="323.43" width="81.30" height="2.55" fill="#1066ac"/>
<rect x="355.4" y="327.28" width="84.60" height="2.55" fill="#1066ac"/>
<rect x="355.4" y="331.12" width="86.00" height="2.55" fill="#1066ac"/>
<rect x="355.4" y="334.98" width="89.50" height="2.55" fill="#1066ac"/>
<rect x="355.4" y="338.82" width="94.10" height="2.55" fill="#1066ac"/>
<rect x="355.4" y="342.68" width="106.40" height="2.55" fill="#1066ac"/>
<rect x="355.4" y="346.53" width="106.40" height="2.55" fill="#1066ac"/>
<rect x="355.4" y="350.38" width="106.40" height="2.55" fill="#1066ac"/>
<rect x="355.4" y="354.23" width="106.40" height="2.55" fill="#1066ac"/>
<rect x="355.4" y="358.08" width="137.80" height="2.55" fill="#1066ac"/>
<text x="353.6" y="287.10" font-size="2.7" fill="#606060" text-anchor="end">transcription regulatory region DNA bindi...</text>
<text x="353.6" y="290.95" font-size="2.7" fill="#606060" text-anchor="end">enzyme binding</text>
<text x="353.6" y="294.80" font-size="2.7" fill="#606060" text-anchor="end">protein C-terminus binding</text>
<text x="353.6" y="298.65" font-size="2.7" fill="#606060" text-anchor="end">protein kinase binding</text>
<text x="353.6" y="302.50" font-size="2.7" fill="#606060" text-anchor="end">sequence-specific DNA binding</text>
<text x="353.6" y="306.35" font-size="2.7" fill="#606060" text-anchor="end">DNA-binding transcription factor activity,...</text>
<text x="353.6" y="310.20" font-size="2.7" fill="#606060" text-anchor="end">growth factor binding</text>
<text x="353.6" y="314.05" font-size="2.7" fill="#606060" text-anchor="end">transforming growth factor beta-activated...</text>
<text x="353.6" y="317.90" font-size="2.7" fill="#606060" text-anchor="end">transmembrane receptor protein serine/thr...</text>
<text x="353.6" y="321.75" font-size="2.7" fill="#606060" text-anchor="end">I-SMAD binding</text>
<text x="353.6" y="325.60" font-size="2.7" fill="#606060" text-anchor="end">proximal promoter sequence-specific DNA b...</text>
<text x="353.6" y="329.45" font-size="2.7" fill="#606060" text-anchor="end">identical protein binding</text>
<text x="353.6" y="333.30" font-size="2.7" fill="#606060" text-anchor="end">SMAD binding</text>
<text x="353.6" y="337.15" font-size="2.7" fill="#606060" text-anchor="end">protein N-terminus binding</text>
<text x="353.6" y="341.00" font-size="2.7" fill="#606060" text-anchor="end">transferase activity</text>
<text x="353.6" y="344.85" font-size="2.7" fill="#606060" text-anchor="end">kinase activity</text>
<text x="353.6" y="348.70" font-size="2.7" fill="#606060" text-anchor="end">protein serine/threonine kinase activity</text>
<text x="353.6" y="352.55" font-size="2.7" fill="#606060" text-anchor="end">protein kinase activity</text>
<text x="353.6" y="356.40" font-size="2.7" fill="#606060" text-anchor="end">nucleotide binding</text>
<text x="353.6" y="360.25" font-size="2.7" fill="#606060" text-anchor="end">transcription factor binding</text>
<polyline points="401.8,286.20 408.1,290.05 395.0,293.90 419.0,297.75 440.0,301.60 447.4,305.45 382.2,309.30 375.9,313.15 374.5,317.00 375.9,320.85 381.4,324.70 467.3,328.55 388.2,332.40 395.0,336.25 480.4,340.10 440.0,343.95 434.5,347.80 446.8,351.65 493.7,355.50 441.4,359.35" fill="none" stroke="#f08a2c" stroke-width="0.6" opacity="0.9"/>
<circle cx="401.8" cy="286.20" r="0.6" fill="#f08a2c"/>
<circle cx="408.1" cy="290.05" r="0.6" fill="#f08a2c"/>
<circle cx="395.0" cy="293.90" r="0.6" fill="#f08a2c"/>
<circle cx="419.0" cy="297.75" r="0.6" fill="#f08a2c"/>
<circle cx="440.0" cy="301.60" r="0.6" fill="#f08a2c"/>
<circle cx="447.4" cy="305.45" r="0.6" fill="#f08a2c"/>
<circle cx="382.2" cy="309.30" r="0.6" fill="#f08a2c"/>
<circle cx="375.9" cy="313.15" r="0.6" fill="#f08a2c"/>
<circle cx="374.5" cy="317.00" r="0.6" fill="#f08a2c"/>
<circle cx="375.9" cy="320.85" r="0.6" fill="#f08a2c"/>
<circle cx="381.4" cy="324.70" r="0.6" fill="#f08a2c"/>
<circle cx="467.3" cy="328.55" r="0.6" fill="#f08a2c"/>
<circle cx="388.2" cy="332.40" r="0.6" fill="#f08a2c"/>
<circle cx="395.0" cy="336.25" r="0.6" fill="#f08a2c"/>
<circle cx="480.4" cy="340.10" r="0.6" fill="#f08a2c"/>
<circle cx="440.0" cy="343.95" r="0.6" fill="#f08a2c"/>
<circle cx="434.5" cy="347.80" r="0.6" fill="#f08a2c"/>
<circle cx="446.8" cy="351.65" r="0.6" fill="#f08a2c"/>
<circle cx="493.7" cy="355.50" r="0.6" fill="#f08a2c"/>
<circle cx="441.4" cy="359.35" r="0.6" fill="#f08a2c"/>
<line x1="355.5" y1="360.65000000000003" x2="355.5" y2="361.65000000000003" stroke="#bbb" stroke-width="0.4"/>
<text x="355.5" y="364.6" font-size="2.6" fill="#777" text-anchor="middle">0</text>
<line x1="379.5" y1="360.65000000000003" x2="379.5" y2="361.65000000000003" stroke="#bbb" stroke-width="0.4"/>
<text x="379.5" y="364.6" font-size="2.6" fill="#777" text-anchor="middle">1</text>
<line x1="403.5" y1="360.65000000000003" x2="403.5" y2="361.65000000000003" stroke="#bbb" stroke-width="0.4"/>
<text x="403.5" y="364.6" font-size="2.6" fill="#777" text-anchor="middle">2</text>
<line x1="427.5" y1="360.65000000000003" x2="427.5" y2="361.65000000000003" stroke="#bbb" stroke-width="0.4"/>
<text x="427.5" y="364.6" font-size="2.6" fill="#777" text-anchor="middle">3</text>
<line x1="451.5" y1="360.65000000000003" x2="451.5" y2="361.65000000000003" stroke="#bbb" stroke-width="0.4"/>
<text x="451.5" y="364.6" font-size="2.6" fill="#777" text-anchor="middle">4</text>
<line x1="475.5" y1="360.65000000000003" x2="475.5" y2="361.65000000000003" stroke="#bbb" stroke-width="0.4"/>
<text x="475.5" y="364.6" font-size="2.6" fill="#777" text-anchor="middle">5</text>
<text x="423" y="371.1" font-size="3.6" fill="#333" text-anchor="middle">-log10  (Q value)</text>
<rect x="502" y="285.1" width="3" height="2.6" fill="#1a70c0"/>
<rect x="502" y="289.3" width="3" height="2.6" fill="#f07f1e"/>
<text x="506.5" y="287.40000000000003" font-size="3.05" fill="#333">-log10  (Qvalue)</text>
<text x="506.5" y="291.6" font-size="3.05" fill="#333">Term Candidate Gene Num</text>
<text x="484.1" y="314.7" font-size="5.5" fill="#000">molecular function</text>
<text x="144.6" y="274.2" font-size="7.15" fill="#222" text-anchor="middle">KEGG Pathway</text>
<line x1="71.5" y1="293.2" x2="71.5" y2="362.5" stroke="#aaa" stroke-width="0.4"/>
<line x1="71.5" y1="362.5" x2="234.2" y2="362.5" stroke="#aaa" stroke-width="0.4"/>
<line x1="70.6" y1="295.20" x2="71.5" y2="295.20" stroke="#aaa" stroke-width="0.3"/>
<text x="70.2" y="296.05" font-size="2.6" fill="#555" text-anchor="end" textLength="26.36" lengthAdjust="spacingAndGlyphs">FoxO signaling pathway</text>
<line x1="70.6" y1="298.67" x2="71.5" y2="298.67" stroke="#aaa" stroke-width="0.3"/>
<text x="70.2" y="299.52" font-size="2.6" fill="#555" text-anchor="end" textLength="22.24" lengthAdjust="spacingAndGlyphs">Cellular senescence</text>
<line x1="70.6" y1="302.14" x2="71.5" y2="302.14" stroke="#aaa" stroke-width="0.3"/>
<text x="70.2" y="302.99" font-size="2.6" fill="#555" text-anchor="end" textLength="19.77" lengthAdjust="spacingAndGlyphs">Adherens junction</text>
<line x1="70.6" y1="305.61" x2="71.5" y2="305.61" stroke="#aaa" stroke-width="0.3"/>
<text x="70.2" y="306.46" font-size="2.6" fill="#555" text-anchor="end" textLength="24.44" lengthAdjust="spacingAndGlyphs">p53 signaling pathway</text>
<line x1="70.6" y1="309.08" x2="71.5" y2="309.08" stroke="#aaa" stroke-width="0.3"/>
<text x="70.2" y="309.93" font-size="2.6" fill="#555" text-anchor="end" textLength="27.32" lengthAdjust="spacingAndGlyphs">MAPK signaling pathway</text>
<line x1="70.6" y1="312.55" x2="71.5" y2="312.55" stroke="#aaa" stroke-width="0.3"/>
<text x="70.2" y="313.40" font-size="2.6" fill="#555" text-anchor="end" textLength="26.77" lengthAdjust="spacingAndGlyphs">Hippo signaling pathway</text>
<line x1="70.6" y1="316.02" x2="71.5" y2="316.02" stroke="#aaa" stroke-width="0.3"/>
<text x="70.2" y="316.87" font-size="2.6" fill="#555" text-anchor="end" textLength="47.64" lengthAdjust="spacingAndGlyphs">Signaling pathways regulating pluripotenc...</text>
<line x1="70.6" y1="319.49" x2="71.5" y2="319.49" stroke="#aaa" stroke-width="0.3"/>
<text x="70.2" y="320.34" font-size="2.6" fill="#555" text-anchor="end" textLength="38.99" lengthAdjust="spacingAndGlyphs">Thyroid hormone signaling pathway</text>
<line x1="70.6" y1="322.96" x2="71.5" y2="322.96" stroke="#aaa" stroke-width="0.3"/>
<text x="70.2" y="323.81" font-size="2.6" fill="#555" text-anchor="end" textLength="30.07" lengthAdjust="spacingAndGlyphs">PI3K-Akt signaling pathway</text>
<line x1="70.6" y1="326.43" x2="71.5" y2="326.43" stroke="#aaa" stroke-width="0.3"/>
<text x="70.2" y="327.28" font-size="2.6" fill="#555" text-anchor="end" textLength="35.92" lengthAdjust="spacingAndGlyphs">T cell receptor signaling pathway</text>
<line x1="70.6" y1="329.90" x2="71.5" y2="329.90" stroke="#aaa" stroke-width="0.3"/>
<text x="70.2" y="330.75" font-size="2.6" fill="#555" text-anchor="end" textLength="16.75" lengthAdjust="spacingAndGlyphs">Focal adhesion</text>
<line x1="70.6" y1="333.37" x2="71.5" y2="333.37" stroke="#aaa" stroke-width="0.3"/>
<text x="70.2" y="334.22" font-size="2.6" fill="#555" text-anchor="end" textLength="34.60" lengthAdjust="spacingAndGlyphs">Neurotrophin signaling pathway</text>
<line x1="70.6" y1="336.84" x2="71.5" y2="336.84" stroke="#aaa" stroke-width="0.3"/>
<text x="70.2" y="337.69" font-size="2.6" fill="#555" text-anchor="end" textLength="10.57" lengthAdjust="spacingAndGlyphs">Cell cycle</text>
<line x1="70.6" y1="340.31" x2="71.5" y2="340.31" stroke="#aaa" stroke-width="0.3"/>
<text x="70.2" y="341.16" font-size="2.6" fill="#555" text-anchor="end" textLength="46.68" lengthAdjust="spacingAndGlyphs">Longevity regulating pathway - multiple s...</text>
<line x1="70.6" y1="343.78" x2="71.5" y2="343.78" stroke="#aaa" stroke-width="0.3"/>
<text x="70.2" y="344.63" font-size="2.6" fill="#555" text-anchor="end" textLength="32.81" lengthAdjust="spacingAndGlyphs">Chemokine signaling pathway</text>
<line x1="70.6" y1="347.25" x2="71.5" y2="347.25" stroke="#aaa" stroke-width="0.3"/>
<text x="70.2" y="348.10" font-size="2.6" fill="#555" text-anchor="end" textLength="43.79" lengthAdjust="spacingAndGlyphs">C-type lectin receptor signaling pathway</text>
<line x1="70.6" y1="350.72" x2="71.5" y2="350.72" stroke="#aaa" stroke-width="0.3"/>
<text x="70.2" y="351.57" font-size="2.6" fill="#555" text-anchor="end" textLength="36.11" lengthAdjust="spacingAndGlyphs">B cell receptor signaling pathway</text>
<line x1="70.6" y1="354.19" x2="71.5" y2="354.19" stroke="#aaa" stroke-width="0.3"/>
<text x="70.2" y="355.04" font-size="2.6" fill="#555" text-anchor="end" textLength="29.93" lengthAdjust="spacingAndGlyphs">Prolactin signaling pathway</text>
<line x1="70.6" y1="357.66" x2="71.5" y2="357.66" stroke="#aaa" stroke-width="0.3"/>
<text x="70.2" y="358.51" font-size="2.6" fill="#555" text-anchor="end" textLength="21.28" lengthAdjust="spacingAndGlyphs">Autophagy - animal</text>
<line x1="70.6" y1="361.13" x2="71.5" y2="361.13" stroke="#aaa" stroke-width="0.3"/>
<text x="70.2" y="361.98" font-size="2.6" fill="#555" text-anchor="end" textLength="10.85" lengthAdjust="spacingAndGlyphs">Apoptosis</text>
<line x1="71.3" y1="362.5" x2="71.3" y2="363.5" stroke="#aaa" stroke-width="0.3"/>
<text x="71.6" y="365.3" font-size="2.6" fill="#666" text-anchor="end" transform="rotate(-28 71.6 365.3)">0</text>
<line x1="95.8" y1="362.5" x2="95.8" y2="363.5" stroke="#aaa" stroke-width="0.3"/>
<text x="96.1" y="365.3" font-size="2.6" fill="#666" text-anchor="end" transform="rotate(-28 96.1 365.3)">0.02</text>
<line x1="120.3" y1="362.5" x2="120.3" y2="363.5" stroke="#aaa" stroke-width="0.3"/>
<text x="120.6" y="365.3" font-size="2.6" fill="#666" text-anchor="end" transform="rotate(-28 120.6 365.3)">0.04</text>
<line x1="144.8" y1="362.5" x2="144.8" y2="363.5" stroke="#aaa" stroke-width="0.3"/>
<text x="145.1" y="365.3" font-size="2.6" fill="#666" text-anchor="end" transform="rotate(-28 145.1 365.3)">0.06</text>
<line x1="169.3" y1="362.5" x2="169.3" y2="363.5" stroke="#aaa" stroke-width="0.3"/>
<text x="169.6" y="365.3" font-size="2.6" fill="#666" text-anchor="end" transform="rotate(-28 169.6 365.3)">0.08</text>
<line x1="193.8" y1="362.5" x2="193.8" y2="363.5" stroke="#aaa" stroke-width="0.3"/>
<text x="194.1" y="365.3" font-size="2.6" fill="#666" text-anchor="end" transform="rotate(-28 194.1 365.3)">0.1</text>
<line x1="218.3" y1="362.5" x2="218.3" y2="363.5" stroke="#aaa" stroke-width="0.3"/>
<text x="218.6" y="365.3" font-size="2.6" fill="#666" text-anchor="end" transform="rotate(-28 218.6 365.3)">0.12</text>
<text x="153.2" y="371.6" font-size="3.3" fill="#333" text-anchor="middle">Rich Ratio</text>
<circle cx="172.7" cy="298.2" r="2.10" fill="#b2b2ea" stroke="#7e7ed2" stroke-width="0.7"/>
<circle cx="210.0" cy="295.2" r="2.10" fill="#b2b2ea" stroke="#7e7ed2" stroke-width="0.7"/>
<circle cx="227.9" cy="305.0" r="1.70" fill="#b2b2ea" stroke="#7e7ed2" stroke-width="0.7"/>
<circle cx="234.2" cy="301.8" r="1.70" fill="#b2b2ea" stroke="#7e7ed2" stroke-width="0.7"/>
<circle cx="132.9" cy="308.7" r="2.10" fill="#b2b2ea" stroke="#7e7ed2" stroke-width="0.7"/>
<circle cx="160.3" cy="311.9" r="1.70" fill="#b2b2ea" stroke="#7e7ed2" stroke-width="0.7"/>
<circle cx="161.0" cy="315.3" r="1.70" fill="#b2b2ea" stroke="#7e7ed2" stroke-width="0.7"/>
<circle cx="169.1" cy="318.8" r="1.70" fill="#b2b2ea" stroke="#7e7ed2" stroke-width="0.7"/>
<circle cx="119.5" cy="322.3" r="2.20" fill="#b2b2ea" stroke="#7e7ed2" stroke-width="0.7"/>
<circle cx="159.8" cy="326.0" r="1.50" fill="#b2b2ea" stroke="#7e7ed2" stroke-width="0.7"/>
<circle cx="131.2" cy="329.5" r="1.70" fill="#b2b2ea" stroke="#7e7ed2" stroke-width="0.7"/>
<circle cx="150.6" cy="332.6" r="1.40" fill="#b2b2ea" stroke="#7e7ed2" stroke-width="0.7"/>
<circle cx="148.7" cy="336.5" r="1.50" fill="#b2b2ea" stroke="#7e7ed2" stroke-width="0.7"/>
<circle cx="185.5" cy="339.7" r="1.10" fill="#b2b2ea" stroke="#7e7ed2" stroke-width="0.7"/>
<circle cx="130.3" cy="343.4" r="1.40" fill="#b2b2ea" stroke="#7e7ed2" stroke-width="0.7"/>
<circle cx="150.9" cy="346.7" r="1.20" fill="#b2b2ea" stroke="#7e7ed2" stroke-width="0.7"/>
<circle cx="165.6" cy="350.0" r="1.20" fill="#b2b2ea" stroke="#7e7ed2" stroke-width="0.7"/>
<circle cx="159.8" cy="353.5" r="1.10" fill="#b2b2ea" stroke="#7e7ed2" stroke-width="0.7"/>
<circle cx="135.1" cy="357.0" r="1.30" fill="#b0d8f6" stroke="#86bff0" stroke-width="0.7"/>
<circle cx="130.3" cy="360.9" r="1.10" fill="#d8eefc" stroke="#b8dcf8" stroke-width="0.7"/>
<defs><linearGradient id="cb" x1="0" y1="0" x2="0" y2="1"><stop offset="0" stop-color="#141c8c"/><stop offset="0.45" stop-color="#3a5cc8"/><stop offset="1" stop-color="#84ccf8"/></linearGradient></defs>
<rect x="242.5" y="293" width="4.4" height="36.6" fill="url(#cb)"/>
<text x="241.6" y="290.6" font-size="2.6" fill="#333">Qvalue</text>
<line x1="246.6" y1="293.20" x2="247.6" y2="293.20" stroke="#777" stroke-width="0.3"/>
<text x="248.2" y="294.10" font-size="2.7" fill="#444">0</text>
<line x1="246.6" y1="299.90" x2="247.6" y2="299.90" stroke="#777" stroke-width="0.3"/>
<text x="248.2" y="300.80" font-size="2.7" fill="#444">0.0002</text>
<line x1="246.6" y1="306.60" x2="247.6" y2="306.60" stroke="#777" stroke-width="0.3"/>
<text x="248.2" y="307.50" font-size="2.7" fill="#444">0.0004</text>
<line x1="246.6" y1="313.30" x2="247.6" y2="313.30" stroke="#777" stroke-width="0.3"/>
<text x="248.2" y="314.20" font-size="2.7" fill="#444">0.0006</text>
<line x1="246.6" y1="320.00" x2="247.6" y2="320.00" stroke="#777" stroke-width="0.3"/>
<text x="248.2" y="320.90" font-size="2.7" fill="#444">0.0008</text>
<line x1="246.6" y1="326.70" x2="247.6" y2="326.70" stroke="#777" stroke-width="0.3"/>
<text x="248.2" y="327.60" font-size="2.7" fill="#444">0.001</text>
<text x="240.2" y="337.3" font-size="2.8" fill="#333">Gene Number</text>
<circle cx="242.3" cy="340.8" r="0.85" fill="#111"/>
<text x="245.2" y="341.7" font-size="2.7" fill="#444">6</text>
<circle cx="242.3" cy="345.3" r="1.05" fill="#111"/>
<text x="245.2" y="346.2" font-size="2.7" fill="#444">8</text>
<circle cx="242.3" cy="350.3" r="1.3" fill="#111"/>
<text x="245.2" y="351.2" font-size="2.7" fill="#444">11</text>
<circle cx="242.3" cy="356.2" r="1.6" fill="#111"/>
<text x="245.2" y="357.09999999999997" font-size="2.7" fill="#444">13</text>
<circle cx="242.3" cy="362.6" r="1.85" fill="#111"/>
<text x="245.2" y="363.5" font-size="2.7" fill="#444">15</text>
<text x="4.2" y="17.8" font-size="21" fill="#000">a</text>
<text x="283.8" y="18.6" font-size="21" fill="#000">b</text>
<text x="4.7" y="265.5" font-size="21" fill="#000">c</text>
</svg>
</body></html>
